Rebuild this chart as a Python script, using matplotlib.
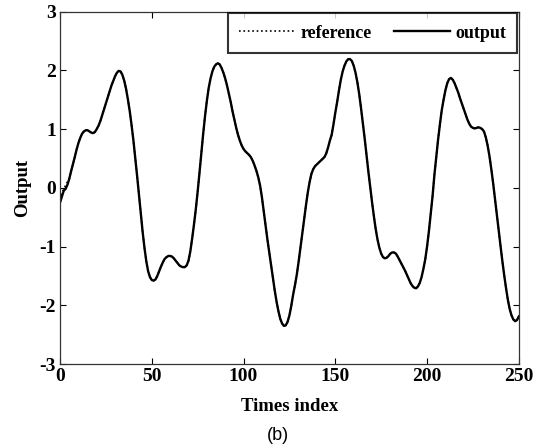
import matplotlib
matplotlib.use('Agg')
import matplotlib.pyplot as plt

plt.rcParams['axes.unicode_minus'] = False

# sample index (0..250) and values
times = list(range(0, 251))

output = [
    -0.25, -0.15, -0.05, -0.02, 0.05, 0.15, 0.28, 0.40, 0.52, 0.65,
    0.76, 0.85, 0.92, 0.96, 0.98, 0.98, 0.96, 0.94, 0.93, 0.95,
    1.00, 1.06, 1.14, 1.24, 1.34, 1.44, 1.54, 1.64, 1.74, 1.82,
    1.90, 1.96, 1.99, 1.98, 1.92, 1.82, 1.68, 1.50, 1.30, 1.06,
    0.80, 0.50, 0.20, -0.12, -0.45, -0.75, -1.02, -1.25, -1.42, -1.52,
    -1.57, -1.58, -1.56, -1.50, -1.42, -1.34, -1.27, -1.21, -1.18, -1.16,
    -1.16, -1.17, -1.20, -1.24, -1.28, -1.32, -1.34, -1.35, -1.35, -1.32,
    -1.24, -1.08, -0.86, -0.62, -0.36, -0.06, 0.26, 0.60, 0.92, 1.22,
    1.48, 1.70, 1.86, 1.98, 2.06, 2.10, 2.12, 2.10, 2.04, 1.96,
    1.86, 1.74, 1.60, 1.46, 1.30, 1.16, 1.02, 0.90, 0.80, 0.72,
    0.66, 0.62, 0.59, 0.56, 0.52, 0.46, 0.38, 0.29, 0.18, 0.04,
    -0.16, -0.40, -0.64, -0.88, -1.10, -1.32, -1.54, -1.75, -1.94, -2.10,
    -2.23, -2.31, -2.35, -2.34, -2.28, -2.17, -2.01, -1.82, -1.66, -1.48,
    -1.26, -1.02, -0.78, -0.54, -0.30, -0.08, 0.10, 0.24, 0.32, 0.37,
    0.40, 0.43, 0.46, 0.49, 0.52, 0.58, 0.68, 0.80, 0.90, 1.08,
    1.28, 1.46, 1.66, 1.84, 1.98, 2.08, 2.15, 2.19, 2.19, 2.16,
    2.08, 1.96, 1.80, 1.60, 1.36, 1.10, 0.84, 0.56, 0.28, 0.02,
    -0.24, -0.48, -0.70, -0.88, -1.02, -1.12, -1.18, -1.20, -1.19, -1.16,
    -1.12, -1.10, -1.10, -1.12, -1.17, -1.23, -1.29, -1.35, -1.41, -1.48,
    -1.55, -1.62, -1.67, -1.70, -1.71, -1.68, -1.62, -1.52, -1.38, -1.22,
    -1.00, -0.74, -0.44, -0.14, 0.22, 0.52, 0.82, 1.08, 1.32, 1.50,
    1.66, 1.78, 1.85, 1.87, 1.84, 1.78, 1.70, 1.62, 1.52, 1.43,
    1.34, 1.25, 1.16, 1.09, 1.04, 1.02, 1.01, 1.02, 1.03, 1.02,
    1.00, 0.96, 0.86, 0.72, 0.54, 0.32, 0.08, -0.18, -0.45, -0.72,
    -0.98, -1.24, -1.48, -1.70, -1.90, -2.06, -2.17, -2.24, -2.27, -2.25,
    -2.19,
]

# reference signal: same as output except for the first few samples
reference = [-0.20, -0.10, -0.02, 0.04, 0.10] + output[5:]

xticks = [0, 50, 100, 150, 200, 250]
yticks = [-3, -2, -1, 0, 1, 2, 3]

serif = ['Liberation Serif', 'DejaVu Serif']
tick_size = 14
label_size = 13.5

fig = plt.figure(figsize=(5.41, 4.44), dpi=100)
ax = fig.add_axes([0.111, 0.180, 0.848, 0.794])

ax.plot(times, reference, color='black', linestyle=':', linewidth=1.2,
        label='reference')
ax.plot(times, output, color='black', linestyle='-', linewidth=1.7,
        label='output')

ax.set_xlim(0, 250)
ax.set_ylim(-3, 3)
ax.set_xticks(xticks)
ax.set_yticks(yticks)
ax.tick_params(direction='in', top=True, right=True, length=4, width=0.8,
               pad=3)
for lab in ax.get_xticklabels() + ax.get_yticklabels():
    lab.set_family(serif)
    lab.set_fontweight('bold')
    lab.set_fontsize(tick_size)
for sp in ax.spines.values():
    sp.set_linewidth(0.9)
    sp.set_color('#333333')

ax.set_xlabel('Times index', family=serif, fontweight='bold',
              fontsize=label_size, labelpad=9)
ax.set_ylabel('Output', family=serif, fontweight='bold',
              fontsize=label_size, labelpad=6)

leg = ax.legend(loc='upper right', ncol=2, frameon=True, fancybox=False,
                edgecolor='black', handlelength=3.1, columnspacing=1.2,
                borderaxespad=0.1, handletextpad=0.3, borderpad=0.62,
                prop={'family': serif, 'weight': 'bold', 'size': 13})
leg.get_frame().set_linewidth(1.5)

fig.text(0.513, 0.0, '(b)', family=['Liberation Sans', 'DejaVu Sans'],
         fontsize=13, ha='center', va='bottom')

fig.savefig('out.png', dpi=100)
